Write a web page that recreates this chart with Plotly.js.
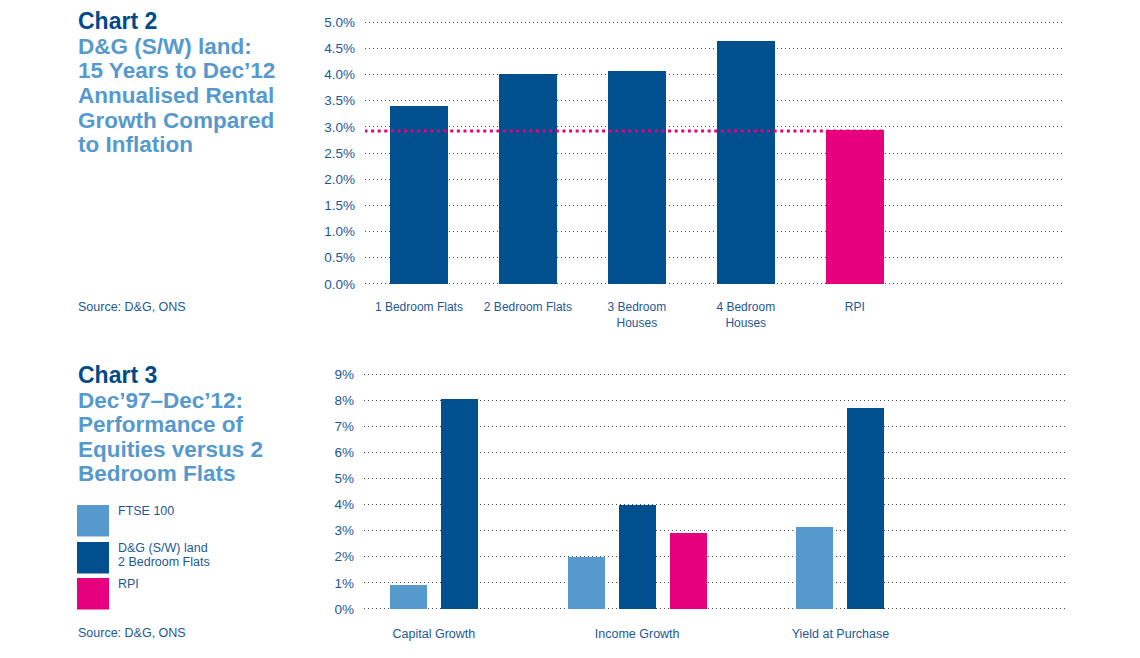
<!DOCTYPE html>
<html>
<head>
<meta charset="utf-8">
<script src="https://cdn.plot.ly/plotly-3.0.1.min.js"></script>
<style>
html,body{margin:0;padding:0;background:#fff;}
#chart{width:1140px;height:658px;}
</style>
</head>
<body>
<div id="chart"></div>
<script>
// ---------- Chart 2 data ----------
const chart2Categories = ["1 Bedroom Flats", "2 Bedroom Flats", "3 Bedroom<br>Houses", "4 Bedroom<br>Houses", "RPI"];
const chart2Values = [3.40, 4.00, 4.06, 4.63, 2.93];
const chart2IsRPI = [false, false, false, false, true];
const chart2TickVals = [0, 0.5, 1.0, 1.5, 2.0, 2.5, 3.0, 3.5, 4.0, 4.5, 5.0];

// ---------- Chart 3 data ----------
const chart3Categories = ["Capital Growth", "Income Growth", "Yield at Purchase"];
const chart3SeriesNames = ["FTSE 100", "D&G (S/W) land<br>2 Bedroom Flats", "RPI"];
const ftse100 = [0.90, 2.00, 3.15];
const dgTwoBedFlats = [8.05, 4.00, 7.70];
const rpi = [null, 2.90, null];
const chart3TickVals = [0, 1, 2, 3, 4, 5, 6, 7, 8, 9];

// ---------- Style ----------
const DARK = "#00508f";
const LIGHT = "#5599cd";
const PINK = "#e6007e";
const TXT = "#1d5896";
const TITLE_DARK = "#004a8a";
const TITLE_LIGHT = "#5599cd";
const FONT = "Liberation Sans, Arial, sans-serif";
const W = 1140, H = 658;
const px = x => x / W;
const py = y => 1 - y / H;

// ---------- Chart 2 traces ----------
const barW2 = 0.535;
const trace2 = {
  type: "bar",
  x: chart2Categories.map((c, i) => i),
  y: chart2Values,
  width: barW2,
  marker: {color: chart2IsRPI.map(r => r ? PINK : DARK), line: {width: 0}},
  xaxis: "x", yaxis: "y",
  hoverinfo: "skip",
  showlegend: false
};
const rpiIndex = chart2IsRPI.indexOf(true);
const rpiValue = chart2Values[rpiIndex];

// ---------- Chart 3 traces ----------
const series3 = [ftse100, dgTwoBedFlats, rpi];
const colors3 = [LIGHT, DARK, PINK];
const pitch3 = 0.251, barW3 = 0.182;
const traces3 = series3.map((vals, s) => {
  const xs = [], ys = [];
  vals.forEach((v, ci) => {
    if (v === null) return;
    const present = series3.map(sv => sv[ci]).map((val, k) => val !== null ? k : -1).filter(k => k >= 0);
    const k = present.indexOf(s);
    xs.push(ci + (k - (present.length - 1) / 2) * pitch3);
    ys.push(v);
  });
  return {
    type: "bar", x: xs, y: ys, width: barW3,
    marker: {color: colors3[s], line: {width: 0}},
    xaxis: "x2", yaxis: "y2", hoverinfo: "skip", showlegend: false
  };
});

// ---------- Annotations ----------
const ann = [];
function addText(text, x, y, size, color, bold) {
  ann.push({
    text: bold ? "<b>" + text + "</b>" : text,
    xref: "paper", yref: "paper", x: px(x), y: py(y),
    xanchor: "left", yanchor: "middle", showarrow: false,
    font: {family: FONT, size: size, color: color}
  });
}
// Chart 2 heading
addText("Chart 2", 76, 21, 23, TITLE_DARK, true);
const sub2 = ["D&G (S/W) land:", "15 Years to Dec’12", "Annualised Rental", "Growth Compared", "to Inflation"];
sub2.forEach((t, i) => addText(t, 76, 46 + i * 24.7, 22.5, TITLE_LIGHT, true));
addText("Source: D&G, ONS", 76, 307, 12.5, TXT, false);

// Chart 3 heading
addText("Chart 3", 76, 375, 23, TITLE_DARK, true);
const sub3 = ["Dec’97–Dec’12:", "Performance of", "Equities versus 2", "Bedroom Flats"];
sub3.forEach((t, i) => addText(t, 76, 400 + i * 24.5, 22.5, TITLE_LIGHT, true));
addText("Source: D&G, ONS", 76, 633, 12.5, TXT, false);

// Legend (chart 3)
const shapes = [];
const legendTops = [505, 542, 578];
chart3SeriesNames.forEach((name, i) => {
  const top = legendTops[i];
  shapes.push({type: "rect", xref: "paper", yref: "paper",
    x0: px(77), x1: px(109), y0: py(top), y1: py(top + 31.5),
    fillcolor: colors3[i], line: {width: 0}});
  name.split("<br>").forEach((line, j) => addText(line, 116, top + 6 + j * 14, 12.5, TXT, false));
});

// RPI dotted reference line in chart 2
shapes.push({
  type: "line", xref: "x", yref: "y",
  x0: -0.5, x1: rpiIndex + barW2 / 2, y0: rpiValue - 0.01, y1: rpiValue - 0.01,
  line: {color: PINK, width: 3.2, dash: "3px,3.6px"}, layer: "above"
});

const gridStyle = {
  showgrid: true, gridcolor: "#4a4a4a", gridwidth: 1, griddash: "1px,3px",
  zeroline: false, showline: false, ticks: ""
};

const layout = {
  width: W, height: H,
  margin: {l: 0, r: 0, t: 0, b: 0},
  paper_bgcolor: "#fff", plot_bgcolor: "rgba(0,0,0,0)",
  showlegend: false,
  bargap: 0,
  xaxis: {
    domain: [px(365), px(1065)], anchor: "y",
    range: [-0.495, 5.93],
    tickvals: chart2Categories.map((c, i) => i), ticktext: chart2Categories,
    showgrid: false, zeroline: false, showline: false, ticks: "",
    tickfont: {family: FONT, size: 12, color: TXT},
    ticklabelstandoff: 13, fixedrange: true
  },
  yaxis: Object.assign({
    domain: [py(285), py(21)], anchor: "x",
    range: [-0.02, 5.02],
    tickvals: chart2TickVals, ticktext: chart2TickVals.map(v => v.toFixed(1) + "%"),
    tickfont: {family: FONT, size: 13.5, color: TXT},
    ticklabelstandoff: 9, fixedrange: true
  }, gridStyle),
  xaxis2: {
    domain: [px(364), px(1065)], anchor: "y2",
    range: [-0.344, 3.105],
    tickvals: chart3Categories.map((c, i) => i), ticktext: chart3Categories,
    showgrid: false, zeroline: false, showline: false, ticks: "",
    tickfont: {family: FONT, size: 12.5, color: TXT},
    ticklabelstandoff: 14, fixedrange: true
  },
  yaxis2: Object.assign({
    domain: [py(610), py(373)], anchor: "x2",
    range: [-0.04, 9.04],
    tickvals: chart3TickVals, ticktext: chart3TickVals.map(v => v + "%"),
    tickfont: {family: FONT, size: 13.5, color: TXT},
    ticklabelstandoff: 9, fixedrange: true
  }, gridStyle),
  annotations: ann,
  shapes: shapes
};

Plotly.newPlot("chart", [trace2].concat(traces3), layout, {staticPlot: true, displayModeBar: false});
</script>
</body>
</html>
